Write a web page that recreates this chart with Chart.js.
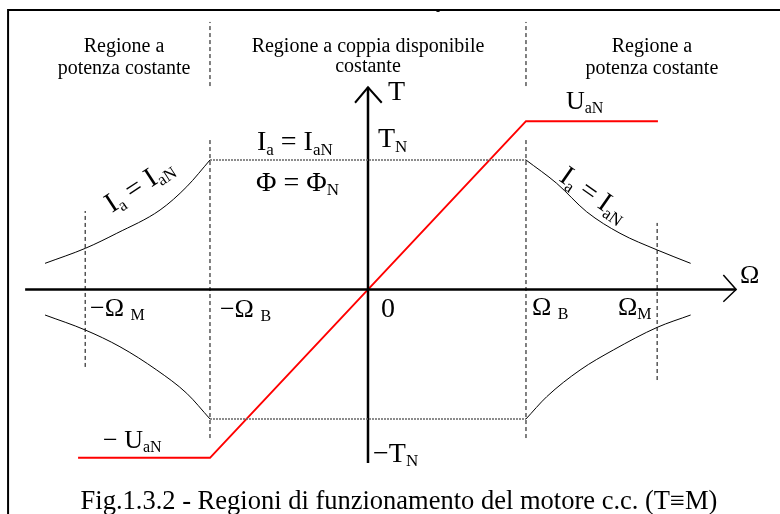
<!DOCTYPE html>
<html>
<head>
<meta charset="utf-8">
<script src="https://cdn.jsdelivr.net/npm/chart.js@4.4.1/dist/chart.umd.min.js"></script>
<style>
  html, body { margin: 0; padding: 0; background: #fff; }
  #wrap { width: 780px; height: 514px; position: relative; }
</style>
</head>
<body>
<div id="wrap"><canvas id="regionsChart"></canvas></div>
<script>
// speed in units of Omega_B, torque in units of T_N
const voltageOmega = [-1.835, -1, 1, 1.835];
const voltageTorque = [-1.30, -1.30, 1.30, 1.30];

const ratedOmega = [-1, 1];
const ratedTorque = 1;

const powerOmegaUpperLeft = [-2.044, -1.789, -1.59, -1.316, -1.147, -1.0];
const powerTorqueUpperLeft = [0.202, 0.318, 0.434, 0.614, 0.794, 1.0];
const powerOmegaUpperRight = [1.0, 1.194, 1.384, 1.595, 1.831, 2.042];
const powerTorqueUpperRight = [1.0, 0.82, 0.60, 0.434, 0.305, 0.202];
const powerOmegaLowerLeft = [-2.044, -1.789, -1.570, -1.337, -1.147, -1.0];
const powerTorqueLowerLeft = [-0.197, -0.313, -0.442, -0.622, -0.802, -1.0];
const powerOmegaLowerRight = [1.0, 1.131, 1.342, 1.553, 1.831, 2.042];
const powerTorqueLowerRight = [-1.0, -0.828, -0.622, -0.467, -0.292, -0.197];

// base speed and max speed markers: [omega, torque from, torque to]
const baseSpeedLines = [[-1, -1.147, 1.154], [1, -1.147, 1.154]];
const maxSpeedLines = [[-1.79, -0.598, 0.606], [1.83, -0.699, 0.514]];
const regionSeparators = [[-1, 1.571, 2.066], [1, 1.571, 2.066]];

const omegaAxis = [-2.17, 2.33];
const torqueAxis = [-1.34, 1.561];
const omegaArrowX = [2.249, 2.33, 2.249];
const omegaArrowY = [0.112, 0, -0.094];
const torqueArrowX = [-0.082, 0, 0.087];
const torqueArrowY = [1.442, 1.561, 1.442];

const frameX = [-2.278, -2.278, 2.62];
const frameY = [-1.75, 2.158, 2.158];

const xRange = [-2.3291, 2.6076];
const yRange = [-1.7336, 2.2355];

const pts = (xs, ys) => xs.map((x, i) => ({ x: x, y: Array.isArray(ys) ? ys[i] : ys }));

function line(data, color, width, extra) {
    return Object.assign({
        data: data,
        showLine: true,
        borderColor: color,
        borderWidth: width,
        pointRadius: 0,
        fill: false,
        tension: 0
    }, extra || {});
}

const datasets = [];
datasets.push(line(pts(frameX, frameY), '#000', 2));
regionSeparators.concat(baseSpeedLines, maxSpeedLines).forEach(function (d) {
    datasets.push(line([{ x: d[0], y: d[1] }, { x: d[0], y: d[2] }], '#000', 1, { borderDash: [4, 3] }));
});
datasets.push(line(pts(ratedOmega, ratedTorque), '#666', 1.5, { borderDash: [2, 1] }));
datasets.push(line(pts(ratedOmega, -ratedTorque), '#666', 1.5, { borderDash: [2, 1] }));
[[powerOmegaUpperLeft, powerTorqueUpperLeft], [powerOmegaUpperRight, powerTorqueUpperRight],
 [powerOmegaLowerLeft, powerTorqueLowerLeft], [powerOmegaLowerRight, powerTorqueLowerRight]].forEach(function (c) {
    datasets.push(line(pts(c[0], c[1]), '#000', 1, { tension: 0.4, cubicInterpolationMode: 'monotone' }));
});
datasets.push(line(pts(omegaAxis, 0), '#000', 2.5));
datasets.push(line(pts([0, 0], torqueAxis), '#000', 2.5));
datasets.push(line(pts(omegaArrowX, omegaArrowY), '#000', 1.5));
datasets.push(line(pts(torqueArrowX, torqueArrowY), '#000', 2));
datasets.push(line(pts(voltageOmega, voltageTorque), '#ff0000', 2));

const serif = '"Liberation Serif", "Times New Roman", serif';

// text runs: [text, subscript?]
const labels = [
    { x: -1.544, y: 1.834, size: 20, align: 'center', parts: [['Regione a']] },
    { x: -1.544, y: 1.664, size: 20, align: 'center', parts: [['potenza costante']] },
    { x: 0, y: 1.834, size: 20, align: 'center', parts: [['Regione a coppia disponibile']] },
    { x: 0, y: 1.680, size: 20, align: 'center', parts: [['costante']] },
    { x: 1.797, y: 1.834, size: 20, align: 'center', parts: [['Regione a']] },
    { x: 1.797, y: 1.664, size: 20, align: 'center', parts: [['potenza costante']] },
    { x: 0.443, y: 2.120, size: 12, align: 'center', parts: [['-']] },
    { x: 0.127, y: 1.463, size: 28, parts: [['T']] },
    { x: 1.253, y: 1.394, size: 26, parts: [['U'], ['aN', 1]] },
    { x: -0.703, y: 1.077, size: 28, parts: [['I'], ['a', 1], [' = I'], ['aN', 1]] },
    { x: 0.063, y: 1.100, size: 28, parts: [['T'], ['N', 1]] },
    { x: -0.709, y: 0.761, size: 28, parts: [['\u03A6 = \u03A6'], ['N', 1]] },
    { x: -1.620, y: 0.591, size: 28, angle: -33, parts: [['I'], ['a', 1], [' = I'], ['aN', 1]] },
    { x: 1.203, y: 0.846, size: 28, angle: 35, parts: [['I'], ['a', 1], [' = I'], ['aN', 1]] },
    { x: 2.354, y: 0.050, size: 26, parts: [['\u03A9']] },
    { x: -1.759, y: -0.205, size: 26, parts: [['\u2212\u03A9 '], ['M', 1]] },
    { x: -0.937, y: -0.212, size: 26, parts: [['\u2212\u03A9 '], ['B', 1]] },
    { x: 0.082, y: -0.212, size: 28, parts: [['0']] },
    { x: 1.038, y: -0.197, size: 26, parts: [['\u03A9 '], ['B', 1]] },
    { x: 1.582, y: -0.197, size: 26, parts: [['\u03A9'], ['M', 1]] },
    { x: -1.677, y: -1.224, size: 26, parts: [['\u2212 U'], ['aN', 1]] },
    { x: 0.032, y: -1.332, size: 28, parts: [['\u2212T'], ['N', 1]] },
    { x: 0.196, y: -1.695, size: 26.5, align: 'center', parts: [['Fig.1.3.2 - Regioni di funzionamento del motore c.c. (T\u2261M)']] }
];

function drawRuns(ctx, px, py, lbl) {
    const size = lbl.size;
    const fontOf = p => (p[1] ? Math.round(size * 0.62) : size) + 'px ' + serif;
    const widths = lbl.parts.map(function (p) { ctx.font = fontOf(p); return ctx.measureText(p[0]).width; });
    const total = widths.reduce((a, b) => a + b, 0);
    ctx.save();
    ctx.translate(px, py);
    if (lbl.angle) ctx.rotate(lbl.angle * Math.PI / 180);
    let cx = lbl.align === 'center' ? -total / 2 : 0;
    lbl.parts.forEach(function (p, i) {
        ctx.font = fontOf(p);
        ctx.fillText(p[0], cx, p[1] ? size * 0.16 : 0);
        cx += widths[i];
    });
    ctx.restore();
}

const textPlugin = {
    id: 'diagramText',
    afterDatasetsDraw(chart) {
        const ctx = chart.ctx;
        const xs = chart.scales.x, ys = chart.scales.y;
        ctx.save();
        ctx.fillStyle = '#000';
        ctx.textBaseline = 'alphabetic';
        ctx.textAlign = 'left';
        labels.forEach(function (l) {
            drawRuns(ctx, xs.getPixelForValue(l.x), ys.getPixelForValue(l.y), l);
        });
        ctx.restore();
    }
};

new Chart(document.getElementById('regionsChart').getContext('2d'), {
    type: 'scatter',
    data: { datasets: datasets },
    options: {
        responsive: true,
        maintainAspectRatio: false,
        animation: false,
        layout: { padding: 0 },
        plugins: { legend: { display: false }, tooltip: { enabled: false } },
        scales: {
            x: { type: 'linear', display: false, min: xRange[0], max: xRange[1] },
            y: { type: 'linear', display: false, min: yRange[0], max: yRange[1] }
        }
    },
    plugins: [textPlugin]
});
</script>
</body>
</html>
